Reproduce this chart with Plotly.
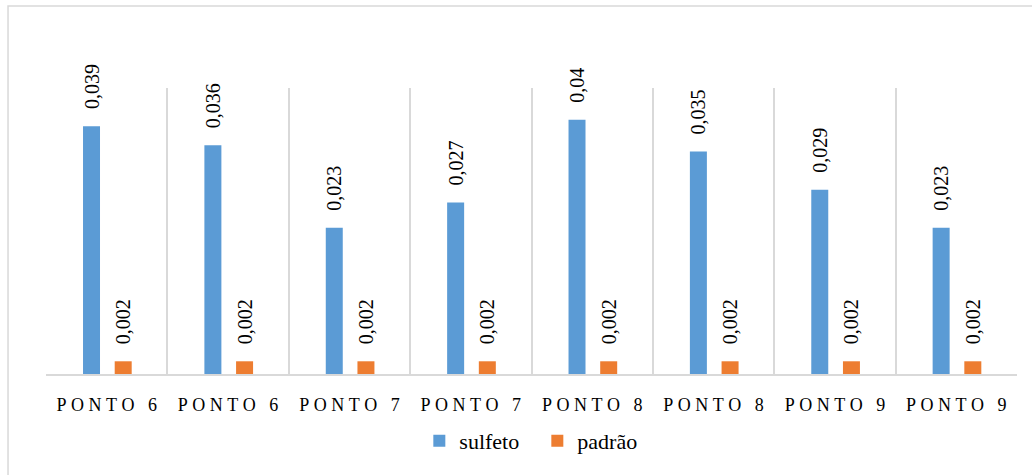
import plotly.graph_objects as go

categories = ["PONTO 6", "PONTO 6", "PONTO 7", "PONTO 7", "PONTO 8", "PONTO 8", "PONTO 9", "PONTO 9"]
sulfeto = [0.039, 0.036, 0.023, 0.027, 0.04, 0.035, 0.029, 0.023]
padrao = [0.002, 0.002, 0.002, 0.002, 0.002, 0.002, 0.002, 0.002]
series_names = ["sulfeto", "padrão"]
colors = ["#5B9BD5", "#ED7D31"]

x = list(range(len(categories)))
ticktext = ["\u2005".join(list(c)) for c in categories]

def fmt(v):
    return ("%g" % v).replace(".", ",")

font_family = "Liberation Serif"

fig = go.Figure()
for name, vals, col, off in [(series_names[0], sulfeto, colors[0], -0.195),
                              (series_names[1], padrao, colors[1], 0.066)]:
    fig.add_trace(go.Bar(
        x=x, y=vals, name=name,
        marker=dict(color=col, line=dict(width=0)),
        width=0.14, offset=off,
        text=["\u2002\u2009" + fmt(v) for v in vals],
        textposition="outside", textangle=-90,
        constraintext="none",
        textfont=dict(family=font_family, size=20, color="#000000"),
        cliponaxis=False,
    ))

fig.update_layout(
    width=1032, height=475,
    margin=dict(l=46, r=15, t=88, b=101),
    paper_bgcolor="white", plot_bgcolor="white",
    font=dict(family=font_family, size=18, color="#000000"),
    barmode="group",
    showlegend=True,
    legend=dict(orientation="h", x=0.506, xanchor="center", y=-0.234, yanchor="middle",
                entrywidth=73, entrywidthmode="pixels",
                font=dict(family=font_family, size=22, color="#000000")),
    xaxis=dict(
        range=[-0.5, len(categories) - 0.5],
        tickmode="array", tickvals=x, ticktext=ticktext,
        showgrid=False, zeroline=False,
        showline=True, linecolor="#d9d9d9", linewidth=2,
        ticks="", ticklabelstandoff=13,
        tickfont=dict(family=font_family, size=18, color="#000000"),
        minor=dict(tickmode="array", tickvals=[i - 0.5 for i in range(len(categories) + 1)],
                   showgrid=True, gridcolor="#d9d9d9", gridwidth=1.5, ticks=""),
    ),
    yaxis=dict(range=[0, 0.045], visible=False, showgrid=False),
    shapes=[dict(type="path", xref="paper", yref="paper",
                 path="M -0.0391 -0.5 L -0.0391 1.2867 L 1.1 1.2867",
                 line=dict(color="#d9d9d9", width=1.5))],
)

fig.write_html("out.html")
